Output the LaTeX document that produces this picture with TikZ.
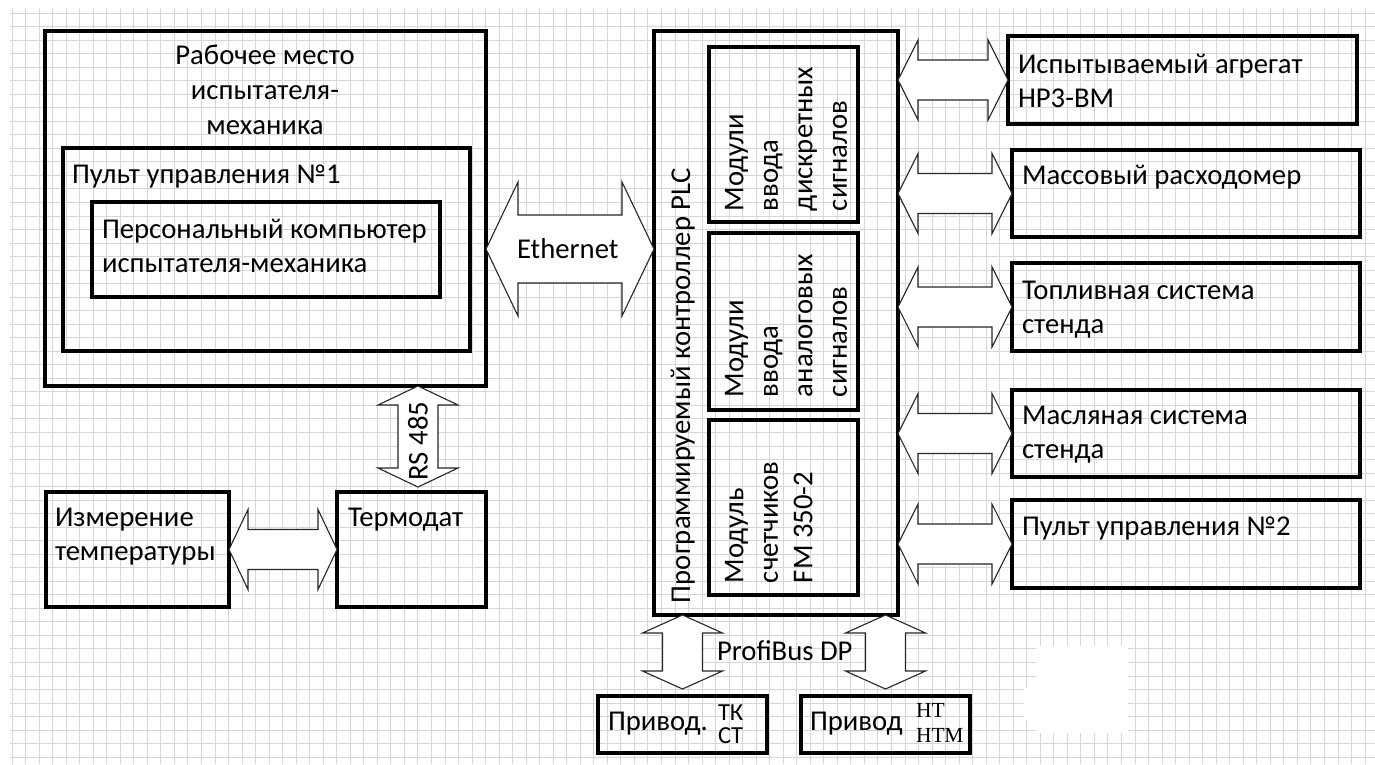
\documentclass[tikz,border=0pt]{standalone}
\usepackage{fontspec}
\setmainfont{Carlito}
\newfontfamily\serifnt{Liberation Serif}
\usetikzlibrary{calc}
\tikzset{
  box/.style={draw=black, line width=3.3pt, inner sep=0pt, outer sep=0pt, anchor=north west},
  barrow/.style={draw=black!85, line width=1.1pt, fill=white, line join=miter},
  txt/.style={inner sep=0pt, outer sep=0pt, font=\fontsize{28.7}{34.5}\selectfont, align=left},
  smalltxt/.style={inner sep=0pt, outer sep=0pt, font=\fontsize{24.5}{23}\selectfont, align=left},
  sertxt/.style={inner sep=0pt, outer sep=0pt, font=\serifnt\fontsize{21.5}{25}\selectfont, align=left},
  gridline/.style={draw=black!16, line width=0.9pt}
}
% #1 name, #2 left, #3 top, #4 width, #5 height
\newcommand\mybox[5]{\node[box, minimum width=#4pt, minimum height=#5pt] (#1) at (#2,#3) {};}
% horizontal double block arrow: #1 left tip, #2 right tip, #3 head length, #4 shaft half, #5 head half
\newcommand\harrow[5]{\draw[barrow] (#1) -- ($(#1)+(#3,-#5)$) -- ($(#1)+(#3,-#4)$) -- ($(#2)+(-#3,-#4)$) -- ($(#2)+(-#3,-#5)$) -- (#2) -- ($(#2)+(-#3,#5)$) -- ($(#2)+(-#3,#4)$) -- ($(#1)+(#3,#4)$) -- ($(#1)+(#3,#5)$) -- cycle;}
% vertical double block arrow: #1 top tip, #2 bottom tip
\newcommand\varrow[5]{\draw[barrow] (#1) -- ($(#1)+(#5,#3)$) -- ($(#1)+(#4,#3)$) -- ($(#2)+(#4,-#3)$) -- ($(#2)+(#5,-#3)$) -- (#2) -- ($(#2)+(-#5,-#3)$) -- ($(#2)+(-#4,-#3)$) -- ($(#1)+(-#4,#3)$) -- ($(#1)+(-#5,#3)$) -- cycle;}
\begin{document}
\begin{tikzpicture}[x=1pt, y=-1pt]
\useasboundingbox (0,0) rectangle (1375,764);
\fill[white] (0,0) rectangle (1375,764);
\begin{scope}
  \clip (0,0) rectangle (1375,764);
  \foreach \i in {0,...,100} { \draw[gridline] ({12+\i*13.53},8) -- ({12+\i*13.53},764); }
  \foreach \j in {0,...,55} { \draw[gridline] (10,{13+\j*13.53}) -- (1375,{13+\j*13.53}); }
\end{scope}
\fill[white] (1036,646) rectangle (1128,733);
\fill[white] (1024,688) rectangle (1040,720);

% boxes
\mybox{rab}{45}{31}{441}{355}
\mybox{pult}{63}{148}{407}{203}
\mybox{pc}{92}{202}{348}{95}
\mybox{izm}{46}{492}{183}{115}
\mybox{term}{337}{492}{149}{115}
\mybox{plc}{654}{31}{244}{584}
\mybox{mA}{709}{47}{149}{175}
\mybox{mB}{709}{233}{149}{177}
\mybox{mC}{709}{420}{149}{175}
\mybox{rA}{1008}{36}{349}{88}
\mybox{rB}{1012}{150}{348}{87}
\mybox{rC}{1012}{263}{348}{88}
\mybox{rD}{1012}{390}{348}{87}
\mybox{rE}{1012}{500}{348}{88}
\mybox{prA}{598}{696}{169}{57}
\mybox{prB}{801}{696}{169}{57}

% helper coordinates
\coordinate (ethy) at (0,249);
\coordinate (rsx) at (418,0);

% block arrows
\harrow{rab.east |- ethy}{plc.west |- ethy}{32}{34}{67}
\harrow{plc.east |- rA.west}{rA.west}{20}{20}{40}
\harrow{plc.east |- rB.west}{rB.west}{20}{20}{40}
\harrow{plc.east |- rC.west}{rC.west}{20}{20}{40}
\harrow{plc.east |- rD.west}{rD.west}{20}{20}{40}
\harrow{plc.east |- rE.west}{rE.west}{20}{20}{40}
\harrow{izm.east}{term.west |- izm.east}{19}{20}{40}
\coordinate (rsbot) at ($(rsx |- term.north)+(0,-5)$);
\varrow{rsx |- rab.south}{rsbot}{19}{20}{40}
\coordinate (pbA) at ($(prA.north)+(0,-7)$);
\coordinate (pbB) at ($(prB.north)+(0,-7)$);
\varrow{prA.north |- plc.south}{pbA}{18}{20}{40}
\varrow{prB.north |- plc.south}{pbB}{18}{20}{40}

% texts
\node[txt, anchor=north, align=center, font=\fontsize{28.7}{35}\selectfont] at (265,45) {Рабочее место\\испытателя-\\механика};
\node[txt, anchor=base west] at (72,183) {Пульт управления №1};
\node[txt, anchor=north west] at (102,219) {Персональный компьютер\\испытателя-механика};
\node[txt, anchor=base west] at (517,258) {Ethernet};
\node[txt, rotate=90, anchor=base west] at (690,603) {Программируемый контроллер PLC};
\node[txt, rotate=90, anchor=north west] at (725,211) {Модули\\ввода\\дискретных\\сигналов};
\node[txt, rotate=90, anchor=north west] at (725,397) {Модули\\ввода\\аналоговых\\сигналов};
\node[txt, rotate=90, anchor=north west] at (725,583) {Модуль\\счетчиков\\FM 350-2};
\node[txt, anchor=north west] at (1018,54) {Испытываемый агрегат\\НР3-ВМ};
\node[txt, anchor=base west] at (1022,184) {Массовый расходомер};
\node[txt, anchor=north west] at (1022,281) {Топливная система\\стенда};
\node[txt, anchor=north west] at (1022,406) {Масляная система\\стенда};
\node[txt, anchor=base west] at (1022,535) {Пульт управления №2};
\node[txt, anchor=north west] at (55,508) {Измерение\\температуры};
\node[txt, anchor=base west] at (348,526) {Термодат};
\node[txt, rotate=90, anchor=center] at (418,441) {RS 485};
\node[txt, anchor=base west] at (717,660) {ProfiBus DP};
\node[txt, anchor=base west] at (608,730) {Привод.};
\node[smalltxt, anchor=north west] at (718,705) {ТК\\СТ};
\node[txt, anchor=base west] at (810,730) {Привод};
\node[sertxt, anchor=north west] at (916,703) {НТ\\НТМ};
\end{tikzpicture}
\end{document}
